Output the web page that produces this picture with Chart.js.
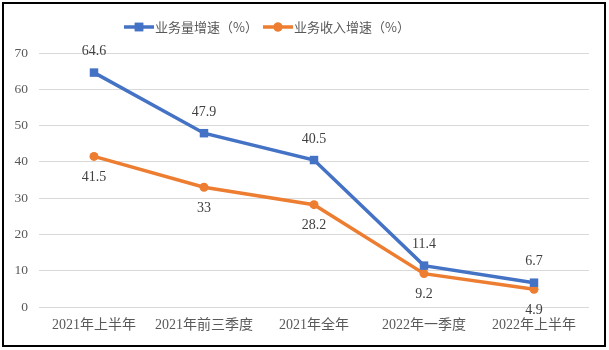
<!DOCTYPE html>
<html>
<head>
<meta charset="utf-8">
<script src="https://cdn.jsdelivr.net/npm/chart.js@4/dist/chart.umd.min.js"></script>
<style>
    body { margin: 0; background: #fff; }
    #wrap { position: relative; width: 609px; height: 350px; }
    #frame { position: absolute; left: 2px; top: 2px; width: 604px; height: 345px; box-sizing: border-box; border: 2px solid #000; pointer-events: none; }
</style>
</head>
<body>
<div id="wrap">
    <canvas id="growthChart" width="609" height="350"></canvas>
    <div id="frame"></div>
</div>
<script>
// data
var periods = ['2021年上半年', '2021年前三季度', '2021年全年', '2022年一季度', '2022年上半年'];
var volumeGrowth = [64.6, 47.9, 40.5, 11.4, 6.7];
var revenueGrowth = [41.5, 33, 28.2, 9.2, 4.9];
var yTicks = [0, 10, 20, 30, 40, 50, 60, 70];
var seriesNames = ['业务量增速（%）', '业务收入增速（%）'];

const serif = '"Liberation Serif", "Noto Sans CJK SC", serif';
const sans = '"Noto Sans CJK SC", "Noto Sans", sans-serif';

// value labels: blue above the point, orange below
const valueLabels = {
    id: 'valueLabels',
    afterDatasetsDraw(chart) {
        const ctx = chart.ctx;
        ctx.save();
        ctx.font = '14px ' + serif;
        ctx.fillStyle = '#404040';
        ctx.textAlign = 'center';
        ctx.textBaseline = 'middle';
        chart.data.datasets.forEach((ds, i) => {
            const meta = chart.getDatasetMeta(i);
            const dy = i === 0 ? -21 : 21;
            meta.data.forEach((pt, j) => {
                ctx.fillText(String(ds.data[j]), pt.x, pt.y + dy);
            });
        });
        ctx.restore();
    }
};

// legend drawn as line + marker like the office chart
const lineLegend = {
    id: 'lineLegend',
    afterDraw(chart) {
        const ctx = chart.ctx;
        let x = 124;
        const y = 27;
        ctx.save();
        ctx.font = '13px ' + sans;
        ctx.textBaseline = 'middle';
        chart.data.datasets.forEach(ds => {
            ctx.strokeStyle = ds.borderColor;
            ctx.lineWidth = ds.borderWidth;
            ctx.beginPath();
            ctx.moveTo(x, y);
            ctx.lineTo(x + 30, y);
            ctx.stroke();
            ctx.fillStyle = ds.borderColor;
            Chart.helpers.drawPoint(ctx, { pointStyle: ds.pointStyle, radius: ds.pointRadius, borderWidth: 0 }, x + 15, y);
            ctx.fill();
            ctx.fillStyle = '#595959';
            ctx.fillText(ds.label, x + 31, y);
            x += 31 + ctx.measureText(ds.label).width + 5;
        });
        ctx.restore();
    }
};

const ctx = document.getElementById('growthChart').getContext('2d');
new Chart(ctx, {
    type: 'line',
    data: {
        labels: periods,
        datasets: [{
            label: seriesNames[0],
            data: volumeGrowth,
            borderColor: '#4472c4',
            backgroundColor: '#4472c4',
            borderWidth: 3.5,
            pointStyle: 'rect',
            pointRadius: 6,
            pointBorderWidth: 0,
            tension: 0
        }, {
            label: seriesNames[1],
            data: revenueGrowth,
            borderColor: '#ed7d31',
            backgroundColor: '#ed7d31',
            borderWidth: 3.5,
            pointStyle: 'circle',
            pointRadius: 4.5,
            pointBorderWidth: 0,
            tension: 0
        }]
    },
    options: {
        responsive: false,
        animation: false,
        layout: { padding: { left: 0, right: 20, top: 53, bottom: 0 } },
        plugins: {
            legend: { display: false },
            tooltip: { enabled: false }
        },
        scales: {
            x: {
                offset: true,
                grid: { display: false, drawTicks: false },
                border: { display: false },
                ticks: { color: '#595959', font: { family: serif, size: 14 }, padding: 10, maxRotation: 0, autoSkip: false },
                afterFit: s => { s.height = 43; }
            },
            y: {
                min: 0,
                max: 70,
                afterBuildTicks: s => { s.ticks = yTicks.map(v => ({ value: v })); },
                grid: { color: '#d9d9d9', lineWidth: 1, drawTicks: false },
                border: { display: false },
                ticks: { color: '#595959', font: { family: serif, size: 13.5 }, padding: 11 },
                afterFit: s => { s.width = 39; }
            }
        }
    },
    plugins: [valueLabels, lineLegend]
});
</script>
</body>
</html>
